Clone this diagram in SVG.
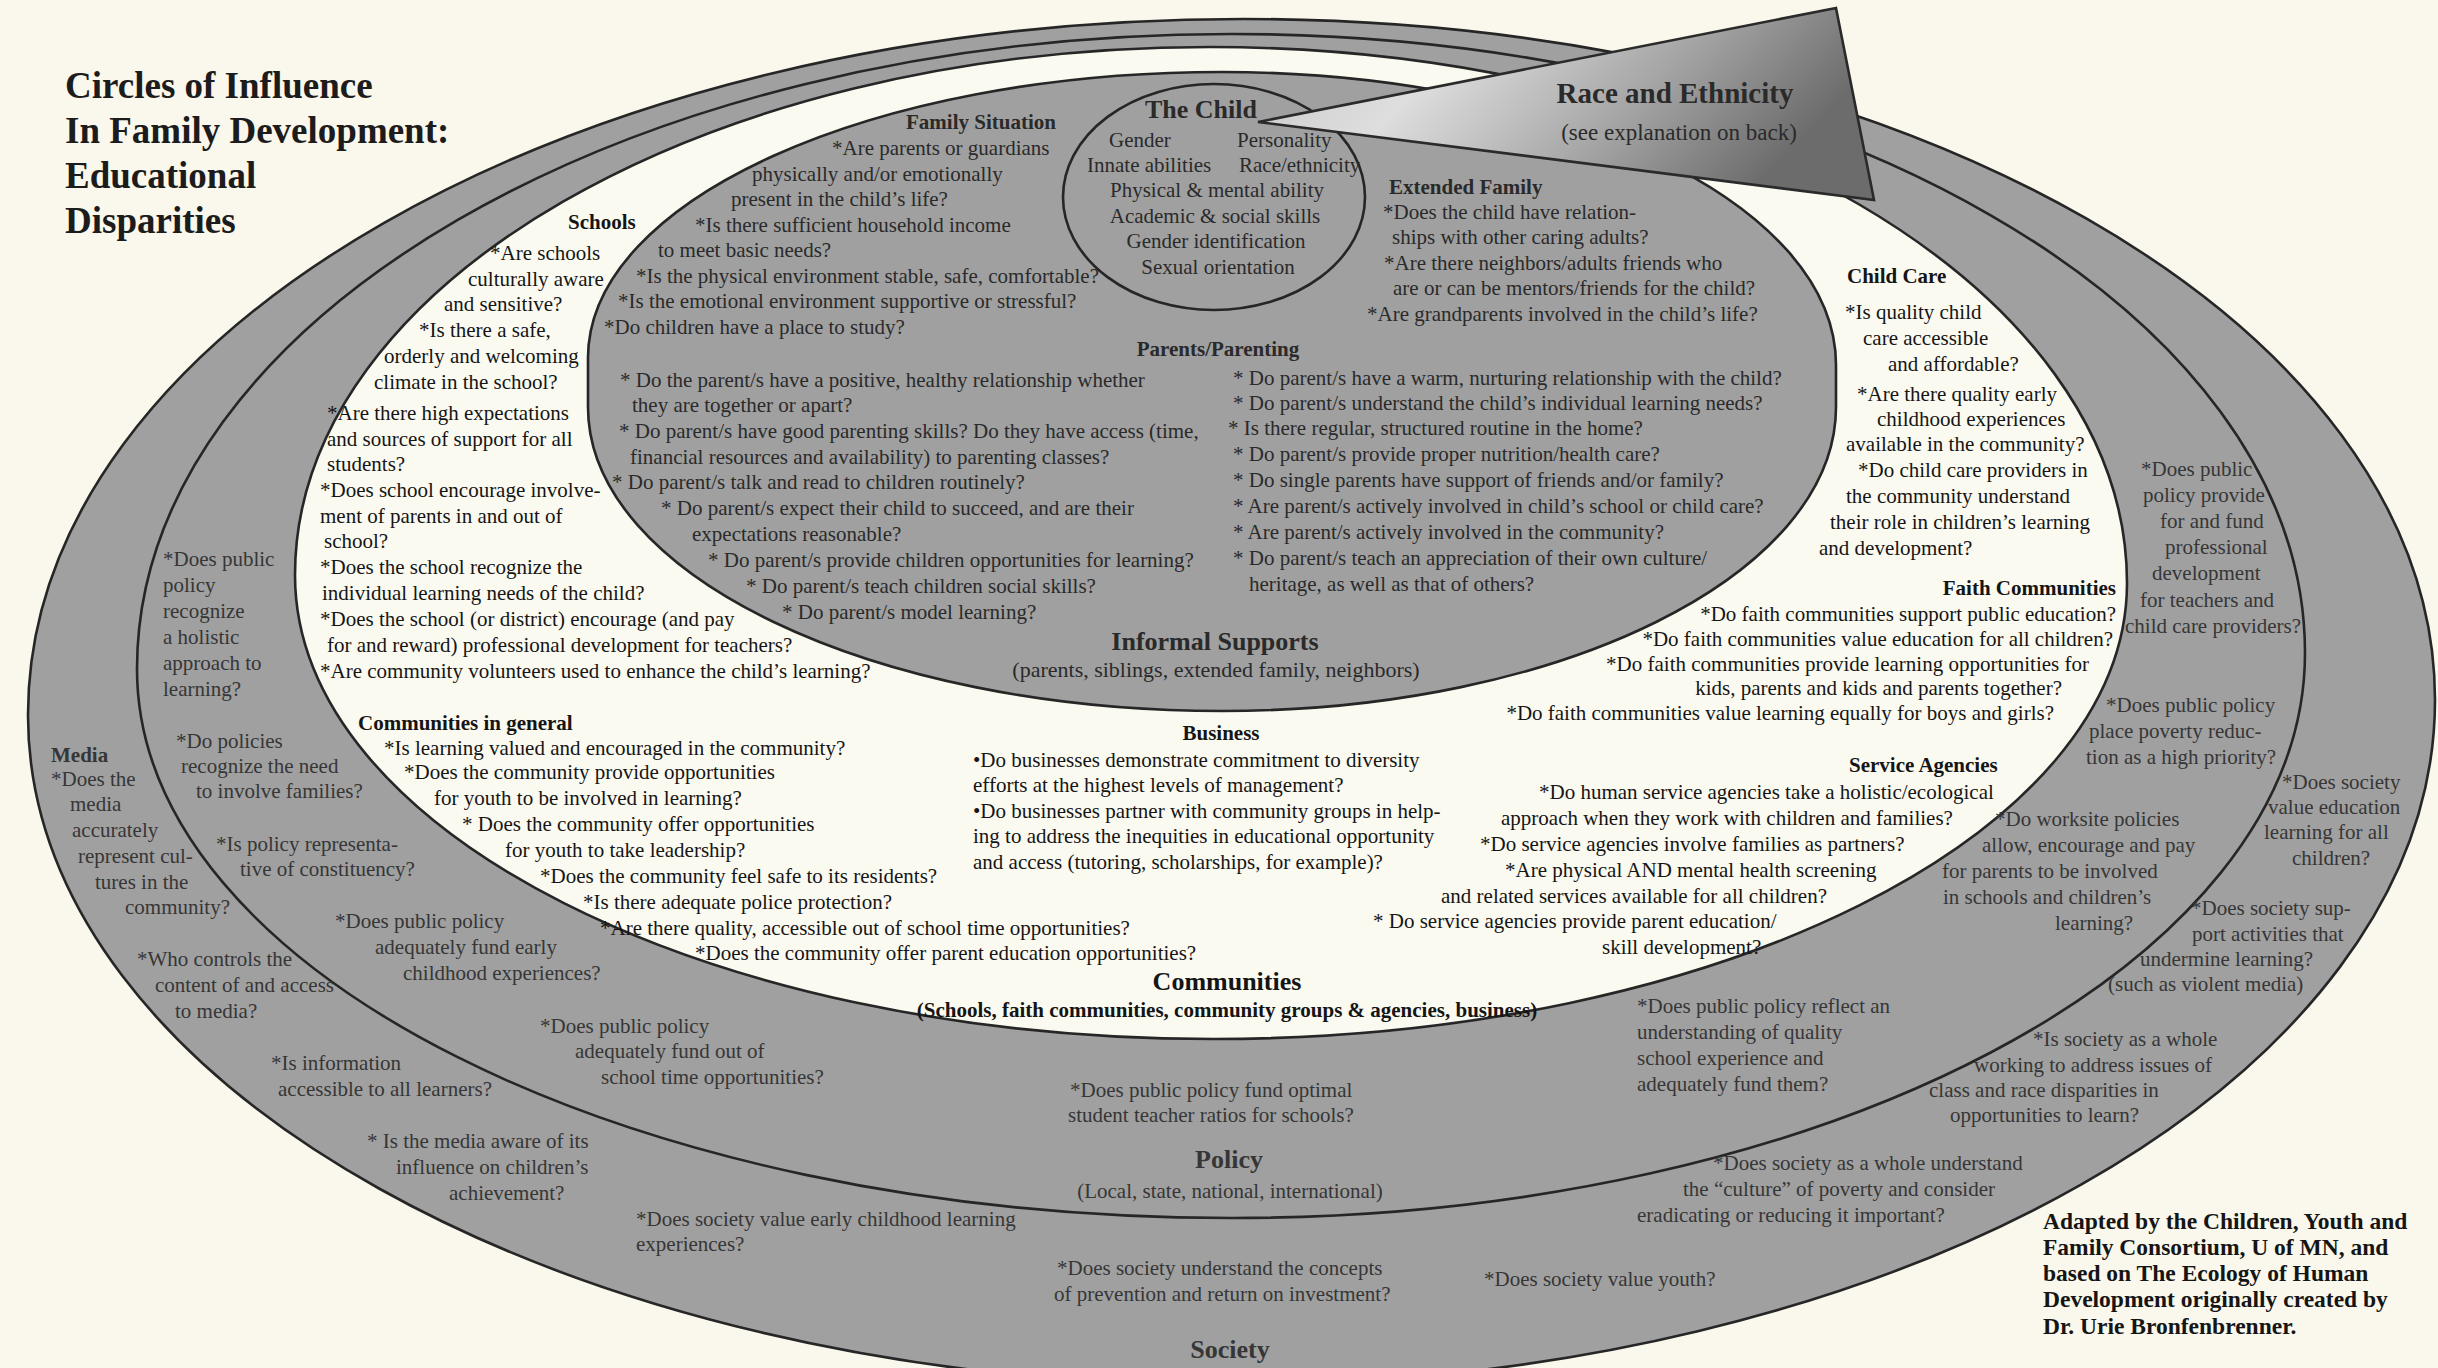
<svg xmlns="http://www.w3.org/2000/svg" width="2438" height="1368" viewBox="0 0 2438 1368">
<defs>
<linearGradient id="triGrad" x1="0" y1="0" x2="1" y2="0.3">
<stop offset="0" stop-color="#c4c4c4"/>
<stop offset="0.35" stop-color="#dedede"/>
<stop offset="0.7" stop-color="#a4a4a4"/>
<stop offset="1" stop-color="#6c6c6c"/>
</linearGradient>
<style>
.t{font-family:"Liberation Serif","Times New Roman",serif;font-size:21px}
.b{font-weight:bold}
.ink{fill:#151515}
.inf{fill:#2a2a2a}
.pol{fill:#363636}
.h26{font-size:26px}
.title{font-size:37px;font-weight:bold;fill:#1c1c1c}
.cred{font-size:23.5px;font-weight:bold;fill:#151515}
.mid{text-anchor:middle}
.end{text-anchor:end}
.ring{fill:#a0a0a0;stroke:#262626;stroke-width:2.6}
.white{fill:#fbfaf1;stroke:#262626;stroke-width:2.6}
</style>
</defs>
<rect x="0" y="0" width="2438" height="1368" fill="#faf8ec"/>

<g id="title">
<text class="t title" x="65" y="98">Circles of Influence</text>
<text class="t title" x="65" y="143">In Family Development:</text>
<text class="t title" x="65" y="188">Educational</text>
<text class="t title" x="65" y="233">Disparities</text>
</g>

<g id="society">
<path class="ring" d="M28,715 C28,330.6 572.4,19 1244,19 C1901.8,19 2435,323.9 2435,700 C2435,1078.3 1894.6,1385 1228,1385 C565.2,1385 28,1085 28,715 Z"/>
</g>
<g id="policy">
<path class="ring" d="M137,669 C137,318.3 627.2,34 1232,34 C1824.6,34 2305,311.1 2305,653 C2305,965 1824.6,1218 1232,1218 C627.2,1218 137,972.2 137,669 Z"/>
</g>
<g id="communities">
<path class="white" d="M295,575 C295,283.4 704.6,47 1210,47 C1716.5,47 2127,287 2127,583 C2127,834.8 1717.8,1039 1213,1039 C706,1039 295,831.3 295,575 Z"/>
</g>
<g id="informal-supports">
<path class="ring" d="M588,358 C588,200 871.8,72 1222,72 C1561.1,72 1836,203.2 1836,365 L1836,407 C1836,574.9 1561.1,711 1222,711 C871.8,711 588,574.9 588,407 Z"/>
</g>
<g id="the-child">
<ellipse class="ring" cx="1214" cy="197" rx="151" ry="113"/>
</g>
<g id="race-ethnicity">
<polygon points="1258,122 1836,8 1874,200" fill="url(#triGrad)" stroke="#2a2a2a" stroke-width="2.6" stroke-linejoin="miter"/>
</g>

<g id="society-labels" class="t pol">
<text class="b" x="51" y="762">Media</text>
<text x="51" y="786">*Does the</text>
<text x="70" y="811">media</text>
<text x="72" y="837">accurately</text>
<text x="78" y="863">represent cul-</text>
<text x="95" y="889">tures in the</text>
<text x="125" y="914">community?</text>
<text x="137" y="966">*Who controls the</text>
<text x="155" y="992">content of and access</text>
<text x="175" y="1018">to media?</text>
<text x="271" y="1070">*Is information</text>
<text x="278" y="1096">accessible to all learners?</text>
<text x="367" y="1148">* Is the media aware of its</text>
<text x="396" y="1174">influence on children’s</text>
<text x="449" y="1200">achievement?</text>
<text x="636" y="1226">*Does society value early childhood learning</text>
<text x="636" y="1251">experiences?</text>
<text x="1057" y="1275">*Does society understand the concepts</text>
<text x="1054" y="1301">of prevention and return on investment?</text>
<text x="1484" y="1286">*Does society value youth?</text>
<text class="b h26 mid" x="1230" y="1358">Society</text>
<text x="1713" y="1170">*Does society as a whole understand</text>
<text x="1683" y="1196">the “culture” of poverty and consider</text>
<text x="1637" y="1222">eradicating or reducing it important?</text>
<text x="2033" y="1046">*Is society as a whole</text>
<text x="1974" y="1072">working to address issues of</text>
<text x="1929" y="1097">class and race disparities in</text>
<text x="1950" y="1122">opportunities to learn?</text>
<text x="2191" y="915">*Does society sup-</text>
<text x="2192" y="941">port activities that</text>
<text x="2140" y="966">undermine learning?</text>
<text x="2108" y="991">(such as violent media)</text>
<text x="2282" y="789">*Does society</text>
<text x="2268" y="814">value education</text>
<text x="2264" y="839">learning for all</text>
<text x="2292" y="865">children?</text>
</g>

<g id="policy-labels" class="t pol">
<text x="163" y="566">*Does public</text>
<text x="163" y="592">policy</text>
<text x="163" y="618">recognize</text>
<text x="163" y="644">a holistic</text>
<text x="163" y="670">approach to</text>
<text x="163" y="696">learning?</text>
<text x="176" y="748">*Do policies</text>
<text x="181" y="773">recognize the need</text>
<text x="196" y="798">to involve families?</text>
<text x="216" y="851">*Is policy representa-</text>
<text x="240" y="876">tive of constituency?</text>
<text x="335" y="928">*Does public policy</text>
<text x="375" y="954">adequately fund early</text>
<text x="403" y="980">childhood experiences?</text>
<text x="540" y="1033">*Does public policy</text>
<text x="575" y="1058">adequately fund out of</text>
<text x="601" y="1084">school time opportunities?</text>
<text x="1070" y="1097">*Does public policy fund optimal</text>
<text x="1068" y="1122">student teacher ratios for schools?</text>
<text class="b h26 mid" x="1229" y="1168">Policy</text>
<text class="mid" x="1230" y="1198">(Local, state, national, international)</text>
<text x="1637" y="1013">*Does public policy reflect an</text>
<text x="1637" y="1039">understanding of quality</text>
<text x="1637" y="1065">school experience and</text>
<text x="1637" y="1091">adequately fund them?</text>
<text x="2141" y="476">*Does public</text>
<text x="2143" y="502">policy provide</text>
<text x="2160" y="528">for and fund</text>
<text x="2165" y="554">professional</text>
<text x="2152" y="580">development</text>
<text x="2140" y="607">for teachers and</text>
<text x="2125" y="633">child care providers?</text>
<text x="2106" y="712">*Does public policy</text>
<text x="2089" y="738">place poverty reduc-</text>
<text x="2086" y="764">tion as a high priority?</text>
<text x="1995" y="826">*Do worksite policies</text>
<text x="1982" y="852">allow, encourage and pay</text>
<text x="1942" y="878">for parents to be involved</text>
<text x="1943" y="904">in schools and children’s</text>
<text x="2055" y="930">learning?</text>
</g>

<g id="communities-labels" class="t ink">
<text class="b" x="568" y="229">Schools</text>
<text x="490" y="260">*Are schools</text>
<text x="468" y="286">culturally aware</text>
<text x="444" y="311">and sensitive?</text>
<text x="419" y="337">*Is there a safe,</text>
<text x="384" y="363">orderly and welcoming</text>
<text x="374" y="389">climate in the school?</text>
<text x="327" y="420">*Are there high expectations</text>
<text x="327" y="446">and sources of support for all</text>
<text x="327" y="471">students?</text>
<text x="320" y="497">*Does school encourage involve-</text>
<text x="320" y="523">ment of parents in and out of</text>
<text x="324" y="548">school?</text>
<text x="320" y="574">*Does the school recognize the</text>
<text x="322" y="600">individual learning needs of the child?</text>
<text x="320" y="626">*Does the school (or district) encourage (and pay</text>
<text x="327" y="652">for and reward) professional development for teachers?</text>
<text x="320" y="678">*Are community volunteers used to enhance the child’s learning?</text>
<text class="b" x="358" y="730">Communities in general</text>
<text x="384" y="755">*Is learning valued and encouraged in the community?</text>
<text x="404" y="779">*Does the community provide opportunities</text>
<text x="434" y="805">for youth to be involved in learning?</text>
<text x="462" y="831">* Does the community offer opportunities</text>
<text x="505" y="857">for youth to take leadership?</text>
<text x="540" y="883">*Does the community feel safe to its residents?</text>
<text x="583" y="909">*Is there adequate police protection?</text>
<text x="600" y="935">*Are there quality, accessible out of school time opportunities?</text>
<text x="695" y="960">*Does the community offer parent education opportunities?</text>
<text class="b mid" x="1221" y="740">Business</text>
<text x="973" y="767">•Do businesses demonstrate commitment to diversity</text>
<text x="973" y="792">efforts at the highest levels of management?</text>
<text x="973" y="818">•Do businesses partner with community groups in help-</text>
<text x="973" y="843">ing to address the inequities in educational opportunity</text>
<text x="973" y="869">and access (tutoring, scholarships, for example)?</text>
<text class="b" x="1847" y="283">Child Care</text>
<text x="1845" y="319">*Is quality child</text>
<text x="1863" y="345">care accessible</text>
<text x="1888" y="371">and affordable?</text>
<text x="1857" y="401">*Are there quality early</text>
<text x="1877" y="426">childhood experiences</text>
<text x="1846" y="451">available in the community?</text>
<text x="1858" y="477">*Do child care providers in</text>
<text x="1846" y="503">the community understand</text>
<text x="1830" y="529">their role in children’s learning</text>
<text x="1819" y="555">and development?</text>
<text class="b end" x="2116" y="595">Faith Communities</text>
<text class="end" x="2116" y="621">*Do faith communities support public education?</text>
<text class="end" x="2113" y="646">*Do faith communities value education for all children?</text>
<text class="end" x="2089" y="671">*Do faith communities provide learning opportunities for</text>
<text class="end" x="2062" y="695">kids, parents and kids and parents together?</text>
<text class="end" x="2054" y="720">*Do faith communities value learning equally for boys and girls?</text>
<text class="b" x="1849" y="772">Service Agencies</text>
<text x="1539" y="799">*Do human service agencies take a holistic/ecological</text>
<text x="1501" y="825">approach when they work with children and families?</text>
<text x="1480" y="851">*Do service agencies involve families as partners?</text>
<text x="1505" y="877">*Are physical AND mental health screening</text>
<text x="1441" y="903">and related services available for all children?</text>
<text x="1373" y="928">* Do service agencies provide parent education/</text>
<text x="1602" y="954">skill development?</text>
<text class="b h26 mid" x="1227" y="990">Communities</text>
<text class="b mid" x="1227" y="1017">(Schools, faith communities, community groups &amp; agencies, business)</text>
</g>

<g id="informal-labels" class="t inf">
<text class="b" x="906" y="129">Family Situation</text>
<text x="832" y="155">*Are parents or guardians</text>
<text x="752" y="181">physically and/or emotionally</text>
<text x="731" y="206">present in the child’s life?</text>
<text x="695" y="232">*Is there sufficient household income</text>
<text x="658" y="257">to meet basic needs?</text>
<text x="636" y="283">*Is the physical environment stable, safe, comfortable?</text>
<text x="618" y="308">*Is the emotional environment supportive or stressful?</text>
<text x="604" y="334">*Do children have a place to study?</text>
<text class="b" x="1389" y="194">Extended Family</text>
<text x="1383" y="219">*Does the child have relation-</text>
<text x="1392" y="244">ships with other caring adults?</text>
<text x="1384" y="270">*Are there neighbors/adults friends who</text>
<text x="1393" y="295">are or can be mentors/friends for the child?</text>
<text x="1367" y="321">*Are grandparents involved in the child’s life?</text>
<text class="b mid" x="1218" y="356">Parents/Parenting</text>
<text x="620" y="387">* Do the parent/s have a positive, healthy relationship whether</text>
<text x="632" y="412">they are together or apart?</text>
<text x="619" y="438">* Do parent/s have good parenting skills? Do they have access (time,</text>
<text x="630" y="464">financial resources and availability) to parenting classes?</text>
<text x="612" y="489">* Do parent/s talk and read to children routinely?</text>
<text x="661" y="515">* Do parent/s expect their child to succeed, and are their</text>
<text x="692" y="541">expectations reasonable?</text>
<text x="708" y="567">* Do parent/s provide children opportunities for learning?</text>
<text x="746" y="593">* Do parent/s teach children social skills?</text>
<text x="782" y="619">* Do parent/s model learning?</text>
<text x="1233" y="385">* Do parent/s have a warm, nurturing relationship with the child?</text>
<text x="1233" y="410">* Do parent/s understand the child’s individual learning needs?</text>
<text x="1228" y="435">* Is there regular, structured routine in the home?</text>
<text x="1233" y="461">* Do parent/s provide proper nutrition/health care?</text>
<text x="1233" y="487">* Do single parents have support of friends and/or family?</text>
<text x="1233" y="513">* Are parent/s actively involved in child’s school or child care?</text>
<text x="1233" y="539">* Are parent/s actively involved in the community?</text>
<text x="1233" y="565">* Do parent/s teach an appreciation of their own culture/</text>
<text x="1249" y="591">heritage, as well as that of others?</text>
<text class="b h26 mid" x="1215" y="650">Informal Supports</text>
<text class="mid" x="1216" y="677" style="font-size:22px">(parents, siblings, extended family, neighbors)</text>
</g>

<g id="child-labels" class="t inf">
<text class="b h26 mid" x="1201" y="118">The Child</text>
<text x="1109" y="147">Gender</text>
<text x="1237" y="147">Personality</text>
<text x="1087" y="172">Innate abilities</text>
<text x="1239" y="172">Race/ethnicity</text>
<text class="mid" x="1217" y="197">Physical &amp; mental ability</text>
<text class="mid" x="1215" y="223">Academic &amp; social skills</text>
<text class="mid" x="1216" y="248">Gender identification</text>
<text class="mid" x="1218" y="274">Sexual orientation</text>
</g>

<g id="race-labels" class="t inf">
<text class="b mid" x="1675" y="103" style="font-size:29px">Race and Ethnicity</text>
<text class="mid" x="1679" y="140" style="font-size:23px">(see explanation on back)</text>
</g>

<g id="credit" class="t">
<text class="cred" x="2043" y="1229">Adapted by the Children, Youth and</text>
<text class="cred" x="2043" y="1255">Family Consortium, U of MN, and</text>
<text class="cred" x="2043" y="1281">based on The Ecology of Human</text>
<text class="cred" x="2043" y="1307">Development originally created by</text>
<text class="cred" x="2043" y="1334">Dr. Urie Bronfenbrenner.</text>
</g>
</svg>
